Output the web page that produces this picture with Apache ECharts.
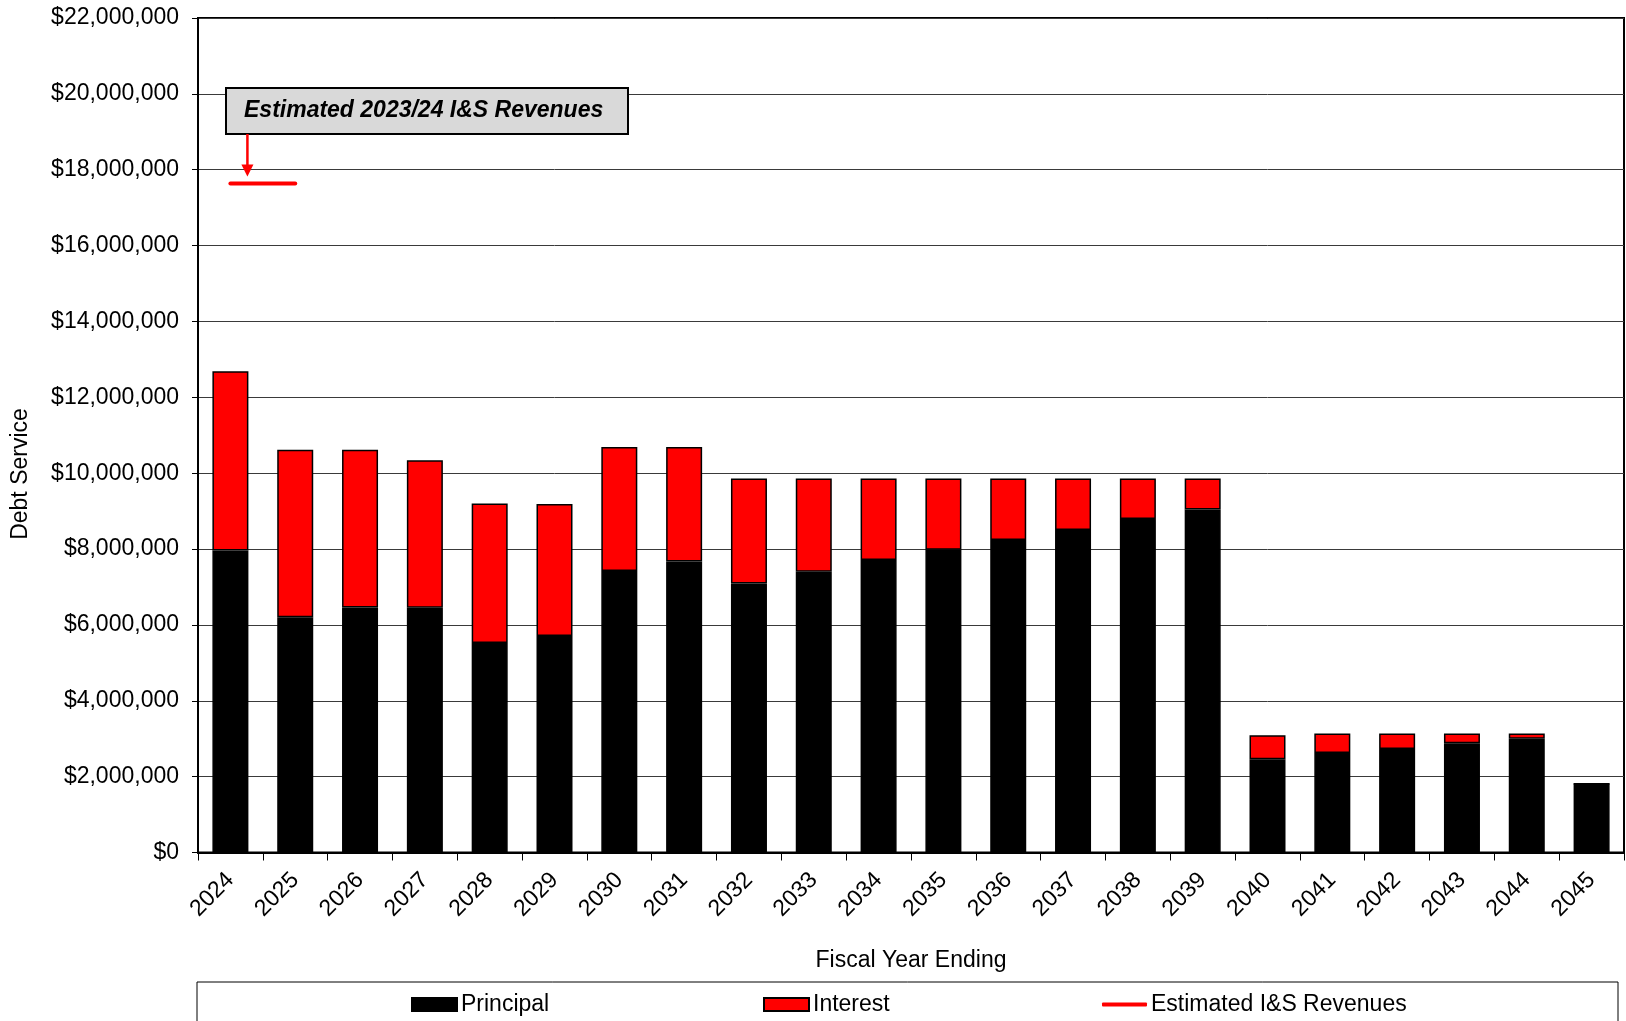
<!DOCTYPE html>
<html>
<head>
<meta charset="utf-8">
<script src="https://cdn.jsdelivr.net/npm/echarts@6/dist/echarts.min.js"></script>
<style>
  html, body { margin: 0; padding: 0; background: #fff; }
  #chart { width: 1626px; height: 1021px; }
</style>
</head>
<body>
<div id="chart"></div>
<script>
// Fiscal years and annual debt service components (dollars)
const years = ['2024','2025','2026','2027','2028','2029','2030','2031','2032','2033','2034',
               '2035','2036','2037','2038','2039','2040','2041','2042','2043','2044','2045'];
const principal = [7960000, 6200000, 6460000, 6450000, 5520000, 5710000, 7420000, 7670000,
                   7090000, 7400000, 7710000, 7980000, 8240000, 8500000, 8790000, 9040000,
                   2460000, 2620000, 2730000, 2880000, 3000000, 1810000];
const interest  = [4730000, 4420000, 4160000, 3890000, 3680000, 3480000, 3270000, 3020000,
                   2770000, 2460000, 2150000, 1880000, 1620000, 1360000, 1070000, 820000,
                   630000, 520000, 410000, 260000, 140000, 0];
// Estimated I&S revenues for fiscal 2023/24
const revenues  = [17640000, 17640000, null, null, null, null, null, null, null, null, null,
                   null, null, null, null, null, null, null, null, null, null, null];
const yTicks = { min: 0, max: 22000000, interval: 2000000 };

const FONT = 'Liberation Sans, Arial, sans-serif';
const FS = 23;

const chart = echarts.init(document.getElementById('chart'), null, { renderer: 'canvas' });

const money = v => '$' + Math.round(v).toLocaleString('en-US');

const legendBase = {
  top: 988, itemWidth: 45, itemHeight: 13, itemGap: 0,
  textStyle: { fontFamily: FONT, fontSize: FS, color: '#000', padding: [0, 0, 0, -1] },
  selectedMode: false
};

chart.setOption({
  animation: false,
  backgroundColor: '#fff',
  grid: { left: 198, right: 2, top: 18, bottom: 168.5, show: true,
          borderColor: '#000', borderWidth: 2, backgroundColor: '#fff' },
  legend: [
    Object.assign({}, legendBase, { left: 406, data: [{ name: 'Principal', icon: 'rect' }] }),
    Object.assign({}, legendBase, { left: 758, data: [{ name: 'Interest', icon: 'rect' }] }),
    Object.assign({}, legendBase, { left: 1097, itemHeight: 4,
      data: [{ name: 'Estimated I&S Revenues', icon: 'roundRect',
               itemStyle: { color: '#ff0000', borderWidth: 0 } }] })
  ],
  xAxis: {
    type: 'category', data: years,
    name: 'Fiscal Year Ending', nameLocation: 'middle', nameGap: 97,
    nameTextStyle: { fontFamily: FONT, fontSize: FS, color: '#000' },
    axisLine: { lineStyle: { color: '#000', width: 2 } },
    axisTick: { show: true, length: 8, lineStyle: { color: '#000', width: 1 } },
    axisLabel: { rotate: 45, fontFamily: FONT, fontSize: FS, color: '#000', margin: 24 },
    splitLine: { show: false }
  },
  yAxis: {
    type: 'value', min: yTicks.min, max: yTicks.max, interval: yTicks.interval,
    axisLine: { show: true, lineStyle: { color: '#000', width: 2 } },
    axisTick: { show: true, length: 6, lineStyle: { color: '#000', width: 1 } },
    axisLabel: { fontFamily: FONT, fontSize: FS, color: '#000', margin: 19, formatter: money },
    splitLine: { show: true, lineStyle: { color: '#3a3a3a', width: 1 } }
  },
  series: [
    { name: 'Principal', type: 'bar', stack: 'ds', data: principal, barWidth: 36,
      itemStyle: { color: '#000', borderColor: '#000', borderWidth: 1.5 } },
    { name: 'Interest', type: 'bar', stack: 'ds', data: interest, barWidth: 36,
      itemStyle: { color: '#ff0000', borderColor: '#000', borderWidth: 1.5 } },
    { name: 'Estimated I&S Revenues', type: 'line', data: revenues, symbol: 'none',
      connectNulls: false, z: 5,
      lineStyle: { color: '#ff0000', width: 4, cap: 'round' }, itemStyle: { color: '#ff0000' } }
  ]
});

// Callout box with an arrow pointing down to the revenue line
const tipX = chart.convertToPixel({ xAxisIndex: 0 }, years[0]) + 17;
const lineY = chart.convertToPixel({ yAxisIndex: 0 }, revenues[0]);
const tipY = lineY - 7;
const boxTop = 88, boxH = 46;

chart.setOption({
  graphic: [
    { type: 'text', x: 21, y: 474, rotation: Math.PI / 2,
      style: { text: 'Debt Service', font: FS + 'px ' + FONT, fill: '#000',
               align: 'center', verticalAlign: 'middle' } },
    { type: 'rect', shape: { x: 197, y: 982, width: 1421, height: 60 },
      style: { fill: 'none', stroke: '#000', lineWidth: 1 }, z: -1 },
    { type: 'rect', shape: { x: 226, y: boxTop, width: 402, height: boxH },
      style: { fill: '#d9d9d9', stroke: '#000', lineWidth: 2 }, z: 10 },
    { type: 'text', x: 244, y: boxTop + boxH / 2, z: 11,
      style: { text: 'Estimated 2023/24 I&S Revenues',
               font: 'italic bold ' + FS + 'px ' + FONT, fill: '#000', verticalAlign: 'middle' } },
    { type: 'line', shape: { x1: tipX, y1: boxTop + boxH, x2: tipX, y2: tipY - 8 },
      style: { stroke: '#ff0000', lineWidth: 2.5 }, z: 10 },
    { type: 'polygon', shape: { points: [[tipX - 6, tipY - 12], [tipX + 6, tipY - 12], [tipX, tipY]] },
      style: { fill: '#ff0000' }, z: 10 }
  ]
});
</script>
</body>
</html>
